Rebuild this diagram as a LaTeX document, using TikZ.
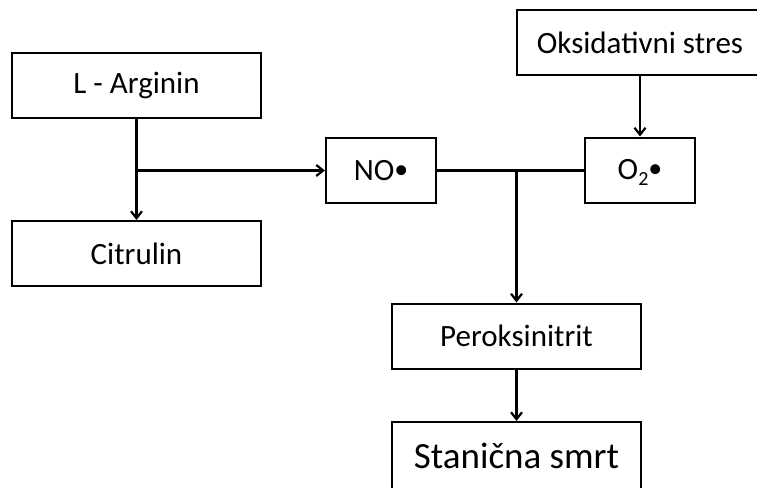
\documentclass[tikz,border=0pt]{standalone}
\usepackage{fontspec}
\setmainfont{Carlito}
\usetikzlibrary{arrows.meta}

\newcommand{\raddot}{\raisebox{2pt}{\scalebox{0.9}{\textbullet}}}

\begin{document}
\begin{tikzpicture}[x=1pt, y=-1pt,
	box/.style={draw, line width=2pt, minimum width=249pt, minimum height=65pt,
		inner sep=0pt, font=\fontsize{31}{34}\selectfont},
	smallbox/.style={box, minimum width=110pt},
	arr/.style={-{Straight Barb[length=7pt,width=11pt]}},
	link/.style={line width=2.2pt, line cap=rect}]

	% frame
	\useasboundingbox (0,0) rectangle (757,487);
	\clip (0,0) rectangle (757,487);

	% boxes
	\node[box] (arg) at (136.5,85.5) {L - Arginin};
	\node[box] (cit) at (136.5,253.5) {Citrulin};
	\node[smallbox] (no) at (381,170.5) {NO\raddot};
	\node[smallbox] (o2) at (640,170) {O\raisebox{-6pt}[0pt][0pt]{\fontsize{20}{20}\selectfont 2}\raddot};
	\node[box, minimum width=246pt] (oks) at (640,42.5) {Oksidativni stres};
	\node[box] (per) at (516.5,336) {Peroksinitrit};
	\node[box, minimum height=68pt, font=\fontsize{37}{40}\selectfont] (smrt) at (516.5,456) {Stanična smrt};

	% branch points
	\coordinate (split) at (arg.south |- no.west);
	\coordinate (join) at (per.north |- no.east);

	% connectors
	\draw[link, arr] (arg) -- (cit);
	\draw[link, arr] (split) -- (no);
	\draw[link] (no.east) -- (o2.west |- no.east);
	\draw[link, arr] (join) -- (per);
	\draw[link, arr] (oks) -- (o2);
	\draw[link, arr] (per) -- (smrt);

\end{tikzpicture}
\end{document}
